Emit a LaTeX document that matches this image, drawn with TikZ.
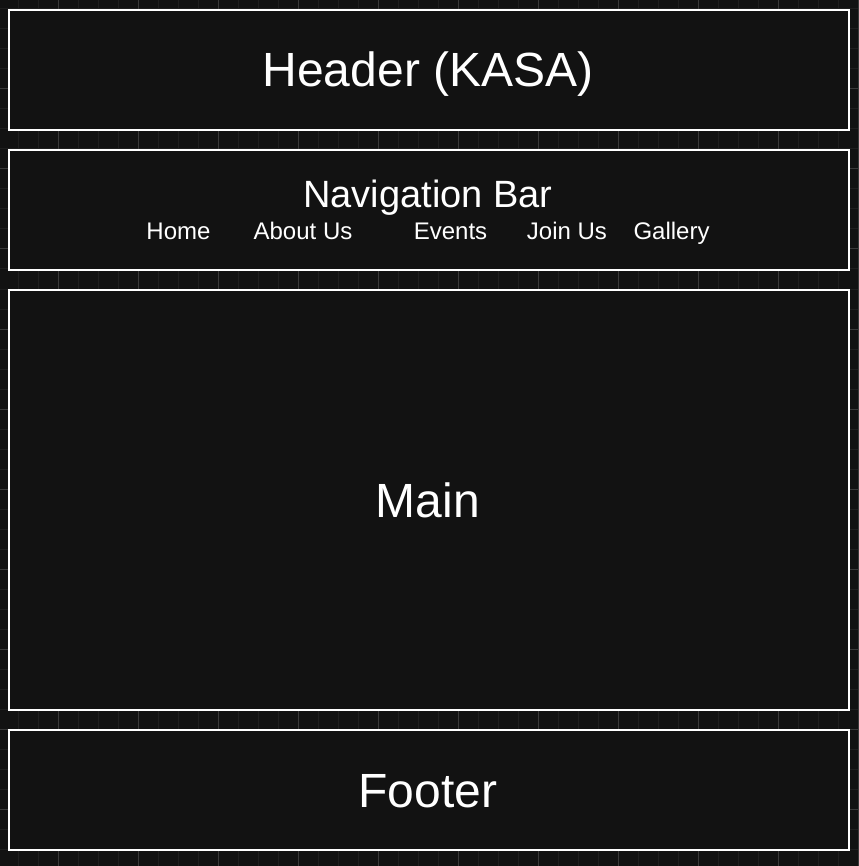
\documentclass[tikz,border=0pt]{standalone}
\usepackage{fontspec}
\setmainfont{Liberation Sans}
\definecolor{bgc}{HTML}{121212}
\definecolor{gridminor}{HTML}{1F1F1F}
\definecolor{gridmajor}{HTML}{3A3A3A}
\begin{document}
\begin{tikzpicture}[x=1pt,y=-1pt,
  panel/.style={draw=white,line width=2pt,fill=bgc},
  bigtext/.style={text=white,anchor=base,inner sep=0pt,font=\fontsize{48}{56}\selectfont},
  navtitle/.style={text=white,anchor=base,inner sep=0pt,font=\fontsize{38}{44}\selectfont},
  navitem/.style={text=white,anchor=base,inner sep=0pt,font=\fontsize{24}{28}\selectfont}]
\useasboundingbox (0,0) rectangle (858,866);
\fill[bgc] (0,0) rectangle (858,866);
% minor grid
\foreach \x in {18,38,...,858} \draw[gridminor,line width=1pt] (\x,0) -- (\x,866);
\foreach \y in {9,29,...,866} \draw[gridminor,line width=1pt] (0,\y) -- (858,\y);
% major grid
\foreach \x in {58,138,...,858} \draw[gridmajor,line width=1pt] (\x,0) -- (\x,866);
\foreach \y in {89,169,...,866} \draw[gridmajor,line width=1pt] (0,\y) -- (858,\y);
% panels
\draw[panel] (9,10) rectangle (849,130);
\draw[panel] (9,150) rectangle (849,270);
\draw[panel] (9,290) rectangle (849,710);
\draw[panel] (9,730) rectangle (849,850);
% texts
\node[bigtext] (header) at (428,87) {Header (KASA)};
\node[navtitle] (nav) at (428,208) {Navigation Bar};
\node[navitem] (home) at (178.5,240) {Home};
\node[navitem] (about) at (303,240) {About Us};
\node[navitem] (events) at (450.5,240) {Events};
\node[navitem] (join) at (567,240) {Join Us};
\node[navitem] (gallery) at (671.5,240) {Gallery};
\node[bigtext] (main) at (428,517) {Main};
\node[bigtext] (footer) at (428,807) {Footer};
\end{tikzpicture}
\end{document}
